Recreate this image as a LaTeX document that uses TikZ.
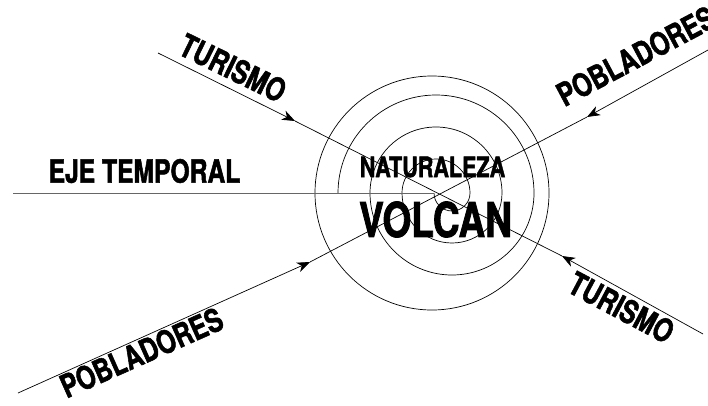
\documentclass[tikz,border=0pt]{standalone}
\usepackage{fontspec}
\newfontfamily\labelfont[FakeStretch=0.77, BoldFeatures={FakeBold=1.6}]{TeX Gyre Heros}
\usetikzlibrary{arrows.meta}

\begin{document}
\begin{tikzpicture}[
    x=1pt, y=1pt,
    tag/.style={font=\labelfont\bfseries\fontsize{32}{32}\selectfont, inner sep=0pt},
    flow/.style={line width=0.7pt},
    >={Stealth[length=13pt, width=10pt, inset=4pt]}
]
    \useasboundingbox (0,0) rectangle (708,405);

    \coordinate (axisstart) at (13,212);
    \coordinate (spiralstart) at (434,212);
    \coordinate (crater) at (432,212);

    \coordinate (turA) at (158,352);
    \coordinate (turtipA) at (295,284);
    \coordinate (turtipB) at (562,149);
    \coordinate (turB) at (703,71);

    \coordinate (pobA) at (18,12);
    \coordinate (pobtipA) at (310,143);
    \coordinate (pobtipB) at (587,288);
    \coordinate (pobB) at (708,355);

    \draw[flow] (crater) circle[radius=117];
    \draw[flow] (spiralstart)
        arc[start angle=180, end angle=360, radius=18]
        arc[start angle=0, end angle=180, radius=34]
        arc[start angle=180, end angle=360, radius=50]
        arc[start angle=0, end angle=180, radius=66]
        arc[start angle=180, end angle=360, radius=82]
        arc[start angle=0, end angle=180, radius=98];
    \draw[flow, black!60] (axisstart) -- (spiralstart);

    \draw[flow, ->] (turA) -- (turtipA);
    \draw[flow] (turtipA) -- (turtipB);
    \draw[flow, ->] (turB) -- (turtipB);

    \draw[flow, ->] (pobA) -- (pobtipA);
    \draw[flow] (pobtipA) -- (pobtipB);
    \draw[flow, ->] (pobB) -- (pobtipB);

    \node[tag] (ejelbl) at (144.5,234) {EJE TEMPORAL};
    \node[tag, font=\labelfont\bfseries\fontsize{28}{28}\selectfont] (natlbl) at (432.5,238) {NATURALEZA};
    \node[tag, font=\labelfont\bfseries\fontsize{48}{48}\selectfont] (volcanlbl) at (435.5,185.5) {VOLCAN};
    \node[tag, rotate=-26] (turlblA) at (233,337) {TURISMO};
    \node[tag, rotate=-28] (turlblB) at (621.5,97.5) {TURISMO};
    \node[tag, rotate=28] (poblblB) at (636,349) {POBLADORES};
    \node[tag, rotate=24] (poblblA) at (141.5,52.5) {POBLADORES};
\end{tikzpicture}
\end{document}
